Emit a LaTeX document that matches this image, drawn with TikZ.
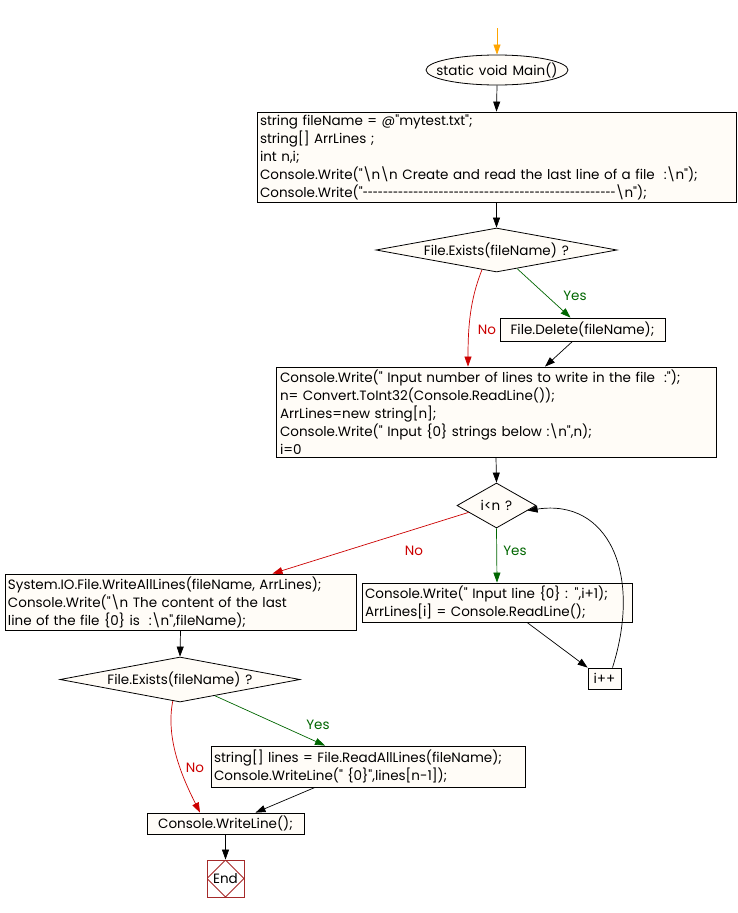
\documentclass[tikz,border=0pt]{standalone}
\usepackage{fontspec}
\usepackage{graphicx}
\setmainfont{Poppins}[Ligatures=TeXOff]
\usetikzlibrary{shapes.geometric,arrows.meta,calc}
\definecolor{cream}{HTML}{FFFCF7}
\definecolor{nored}{HTML}{CC0000}
\definecolor{yesgreen}{HTML}{006600}
\definecolor{endred}{HTML}{A52A2A}
\definecolor{startor}{HTML}{FFA500}
\newcommand\codefont{\fontsize{13.5}{18}\selectfont\spaceskip=5pt\relax}
\begin{document}
\begin{tikzpicture}[x=1pt,y=-1pt,
  box/.style={draw, fill=cream, line width=0.8pt, inner sep=0pt, align=left, font=\codefont},
  cbox/.style={draw, fill=cream, line width=0.8pt, inner sep=0pt, align=center, font=\codefont},
  dec/.style={diamond, draw, fill=cream, line width=0.8pt, inner sep=0pt, aspect=2},
  ell/.style={ellipse, draw, fill=cream, line width=0.8pt, inner sep=0pt},
  endbox/.style={draw=endred, fill=white, line width=0.8pt, minimum size=37pt, inner sep=0pt, font=\codefont,
    path picture={\draw[endred, line width=0.8pt] (path picture bounding box.north) -- (path picture bounding box.east) -- (path picture bounding box.south) -- (path picture bounding box.west) -- cycle;}},
  arr/.style={-{Triangle[length=10pt,width=7pt]}, line width=0.7pt},
  lbl/.style={font=\codefont, inner sep=0pt}
]
\useasboundingbox (0,0) rectangle (738,913);
\fill[white] (0,0) rectangle (738,913);

\coordinate (s) at (497,28);
\node[ell, minimum width=142pt, minimum height=30pt] (main) at (497,70) {};
\node[lbl] (maint) at (main) {static void Main()};
\node[box, text width=473pt, minimum width=479pt, minimum height=90pt] (b1) at (496.5,157)
 {string fileName = @"mytest.txt";\\
  string[] ArrLines ;\\
  int n,i;\\
  Console.Write("\textbackslash n\textbackslash n Create and read the last line of a file\ \ :\textbackslash n");\\
  Console.Write("\scalebox{0.68}[1]{--------------------------------------------------}\textbackslash n");};
\node[dec, minimum width=241pt, minimum height=44pt] (d1) at (496.5,250) {};
\node[lbl] (d1t) at (d1) {File.Exists(fileName) ?};
\node[cbox, minimum width=165pt, minimum height=23pt] (del) at (582.5,329.5) {File.Delete(fileName);};
\node[box, text width=432pt, minimum width=440pt, minimum height=90pt] (b2) at (496,412)
 {Console.Write(" Input number of lines to write in the file\ \ :");\\
  n= Convert.ToInt32(Console.ReadLine());\\
  ArrLines=new string[n];\\
  Console.Write(" Input \{0\} strings below :\textbackslash n",n);\\
  i=0};
\node[dec, minimum width=79pt, minimum height=45pt] (d2) at (496.5,505.5) {};
\node[lbl] (d2t) at (d2) {i<n ?};
\node[box, text width=264pt, minimum width=270pt, minimum height=39pt] (b3) at (497,602.5)
 {Console.Write(" Input line \{0\} : ",i+1);\\
  ArrLines[i] = Console.ReadLine();};
\node[cbox, minimum width=33pt, minimum height=21pt] (ipp) at (604.5,678.5) {i++};
\node[box, text width=345pt, minimum width=351pt, minimum height=56pt] (b4) at (180.5,602)
 {System.IO.File.WriteAllLines(fileName, ArrLines);\\
  Console.Write("\textbackslash n The content of the last\\
  line of the file \{0\} is\ \ :\textbackslash n",fileName);};
\node[dec, minimum width=240pt, minimum height=45pt] (d3) at (180,679.5) {};
\node[lbl] (d3t) at (d3) {File.Exists(fileName) ?};
\node[box, text width=308pt, minimum width=314pt, minimum height=41pt] (b5) at (368,766.5)
 {string[] lines = File.ReadAllLines(fileName);\\
  Console.WriteLine(" \{0\}",lines[n-1]);};
\node[cbox, minimum width=157pt, minimum height=21pt] (b6) at (225.5,823.5) {Console.WriteLine();};
\node[endbox] (end) at (225.5,878.5) {End};

% connectors
\draw[arr, startor] (s) -- (main.north);
\draw[arr] (main.south) -- (b1.north);
\draw[arr] (b1.south) -- (d1.north);
\draw[arr, yesgreen] ($(d1.south)!0.17!(d1.east)$) -- ($(del.north)+(-12,0)$);
\draw[arr, nored] ($(d1.south)!0.12!(d1.west)$) .. controls +(-12,30) and +(0,-40) .. ($(b2.north)+(-28,0)$);
\draw[arr] ($(del.south)+(-10,0)$) -- ($(b2.north)+(49,0)$);
\draw[arr] (b2.south) -- (d2.north);
\draw[arr, yesgreen] (d2.south) -- (b3.north);
\draw[arr] ($(b3.south)+(30,0)$) -- (ipp.north west);
\draw[arr] ($(ipp.north)+(8,0)$) .. controls +(30,-95) and +(80,-12) .. ($(d2.east)!0.22!(d2.south)$);
\draw[arr, nored] ($(d2.west)!0.3!(d2.south)$) -- ($(b4.north)+(92,0)$);
\draw[arr] (b4.south) -- (d3.north);
\draw[arr, yesgreen] ($(d3.south)!0.29!(d3.east)$) -- ($(b5.north)+(-43,0)$);
\draw[arr, nored] ($(d3.south)!0.06!(d3.west)$) .. controls +(-8,40) and +(-15,-30) .. ($(b6.north)+(-25.5,0)$);
\draw[arr] ($(b5.south)+(-53,0)$) -- ($(b6.north)+(30,0)$);
\draw[arr] (b6.south) -- (end.north);

% labels
\node[lbl, text=nored] (no1) at (487,330) {No};
\node[lbl, text=yesgreen] (yes1) at (575,296) {Yes};
\node[lbl, text=yesgreen] (yes2) at (515,551) {Yes};
\node[lbl, text=nored] (no2) at (414,551) {No};
\node[lbl, text=yesgreen] (yes3) at (318,725) {Yes};
\node[lbl, text=nored] (no3) at (195,768) {No};
\end{tikzpicture}
\end{document}
